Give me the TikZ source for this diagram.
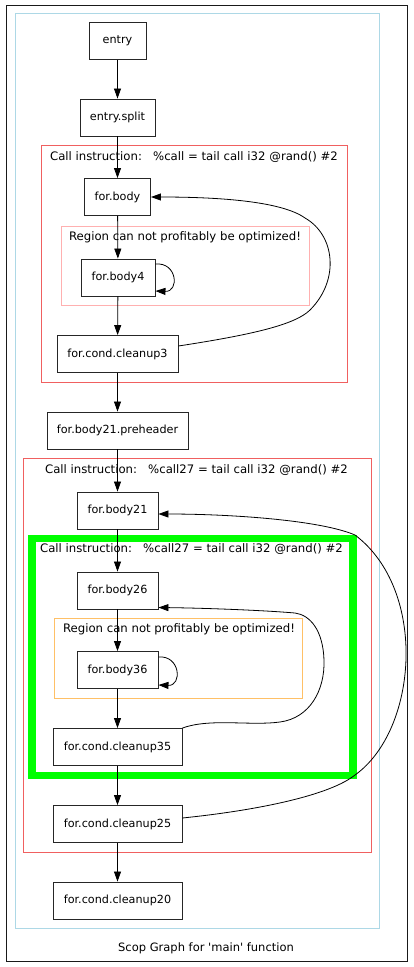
\documentclass[tikz,border=0pt]{standalone}
\usepackage{fontspec}
\setmainfont{DejaVu Sans}
\usetikzlibrary{arrows.meta}
\definecolor{clblue}{HTML}{ADD8E6}
\definecolor{clred}{HTML}{F06060}
\definecolor{clpink}{HTML}{FFB0B0}
\definecolor{clorange}{HTML}{FFC066}
\definecolor{clgreen}{HTML}{00FF00}
% straight apostrophe, set as a glyph so the TeX ligature mapping leaves it alone
\newcommand{\sq}{\XeTeXglyph\XeTeXcharglyph"27\relax}
\tikzset{
  bb/.style={draw=black!85, line width=0.9pt, fill=white, inner sep=0pt,
    font=\fontsize{11.2}{13}\selectfont, minimum height=37pt},
  lbl/.style={inner sep=0pt, font=\fontsize{11.7}{14}\selectfont},
  edge/.style={line width=0.8pt, -{Triangle[length=10pt,width=7pt]}},
  frame/.style={line width=0.9pt}
}
\begin{document}
\begin{tikzpicture}[x=1pt, y=-1pt]
\useasboundingbox (0,0) rectangle (414,967);

% outer frame and function cluster
\draw[frame, draw=black!90] (6,5) rectangle (407,961);
\draw[frame, draw=clblue] (15,13) rectangle (379,928);
\node[lbl, font=\fontsize{11.5}{14}\selectfont] (title) at (206,948) {Scop Graph for \sq main\sq{} function};

% first loop region
\draw[frame, draw=clred] (41,145) rectangle (347,382);
\node[lbl] (t1) at (194,157) {Call instruction:\ \ \ \%call = tail call i32 @rand() \#2};
\draw[frame, draw=clpink] (61,226) rectangle (309,305);
\node[lbl] (r1) at (185,237) {Region can not profitably be optimized!};

% second loop nest
\draw[frame, draw=clred] (23,458) rectangle (371,852);
\node[lbl] (t2) at (196.5,470) {Call instruction:\ \ \ \%call27 = tail call i32 @rand() \#2};
\draw[line width=7.5pt, draw=clgreen] (32,538.5) rectangle (353,775.5);
\node[lbl] (t3) at (191.5,549) {Call instruction:\ \ \ \%call27 = tail call i32 @rand() \#2};
\draw[frame, draw=clorange] (54,618) rectangle (302,698);
\node[lbl] (r2) at (179,629) {Region can not profitably be optimized!};

% basic blocks
\node[bb, minimum width=57pt] (entry) at (117.5,41) {entry};
\node[bb, minimum width=75pt] (split) at (117.5,117.5) {entry.split};
\node[bb, minimum width=66pt] (body) at (117.5,197) {for.body};
\node[bb, minimum width=74pt] (body4) at (118,277.5) {for.body4};
\node[bb, minimum width=121pt] (cu3) at (117.5,354) {for.cond.cleanup3};
\node[bb, minimum width=141pt] (pre) at (117.5,430.5) {for.body21.preheader};
\node[bb, minimum width=81pt] (body21) at (117.5,510.5) {for.body21};
\node[bb, minimum width=81pt] (body26) at (117.5,590.5) {for.body26};
\node[bb, minimum width=81pt] (body36) at (117.5,670) {for.body36};
\node[bb, minimum width=129pt] (cu35) at (117.5,747) {for.cond.cleanup35};
\node[bb, minimum width=129pt] (cu25) at (117.5,824) {for.cond.cleanup25};
\node[bb, minimum width=129pt] (cu20) at (117.5,900.5) {for.cond.cleanup20};

% forward edges
\draw[edge] (entry) -- (split);
\draw[edge] (split) -- (body);
\draw[edge] (body) -- (body4);
\draw[edge] (body4) -- (cu3);
\draw[edge] (cu3) -- (pre);
\draw[edge] (pre) -- (body21);
\draw[edge] (body21) -- (body26);
\draw[edge] (body26) -- (body36);
\draw[edge] (body36) -- (cu35);
\draw[edge] (cu35) -- (cu25);
\draw[edge] (cu25) -- (cu20);

% self loops
\draw[edge] ([yshift=13.5pt]body4.east) .. controls +(22,-2) and +(24,1) .. ([yshift=-13.5pt]body4.east);
\draw[edge] ([yshift=13pt]body36.east) .. controls +(22,-2) and +(24,1) .. ([yshift=-15pt]body36.east);

% back edges
\draw[edge] ([yshift=8pt]cu3.east)
  .. controls (250,335) and (295,325) .. (310,310)
  .. controls (340,280) and (335,235) .. (305,218)
  .. controls (280,200) and (210,197) .. (body.east);
\draw[edge] ([yshift=19pt]cu35.east)
  .. controls (210,718) and (250,726) .. (280,722)
  .. controls (310,718) and (325,690) .. (324,660)
  .. controls (323,630) and (310,615) .. (295,613)
  .. controls (260,610) and (200,608) .. ([yshift=-17pt]body26.east);
\draw[edge] ([yshift=6pt]cu25.east)
  .. controls (260,810) and (330,795) .. (355,775)
  .. controls (418,730) and (428,590) .. (355,535)
  .. controls (320,520) and (230,514) .. ([yshift=-3.5pt]body21.east);
\end{tikzpicture}
\end{document}
